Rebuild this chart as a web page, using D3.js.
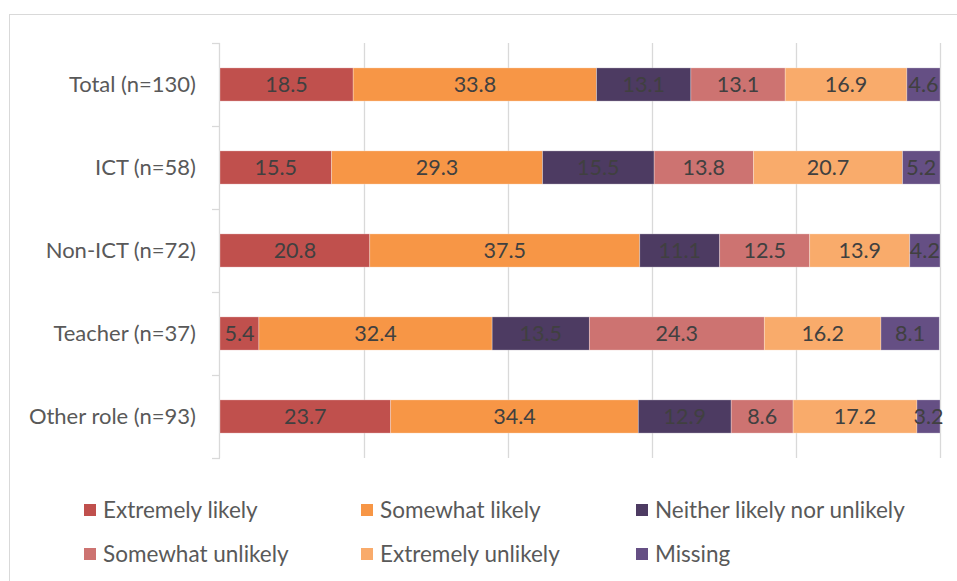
<!DOCTYPE html>
<html lang="en">
<head>
<meta charset="UTF-8">
<title>Likelihood by group</title>
<script src="https://d3js.org/d3.v7.min.js"></script>
<style>
  body { margin: 0; background: #fff; }
  svg { font-family: Lato, "Open Sans", sans-serif; }
  .cat-label { font-size: 22px; fill: #595959; }
  .val-label { font-size: 21.5px; fill: #404040; }
  .legend-label { font-size: 22.5px; fill: #595959; }
</style>
</head>
<body>
<div id="chart"></div>
<script>
// Data
const groups = ["Total (n=130)", "ICT (n=58)", "Non-ICT (n=72)", "Teacher (n=37)", "Other role (n=93)"];
const responses = ["Extremely likely", "Somewhat likely", "Neither likely nor unlikely",
                   "Somewhat unlikely", "Extremely unlikely", "Missing"];
const extremelyLikely   = [18.5, 15.5, 20.8, 5.4, 23.7];
const somewhatLikely    = [33.8, 29.3, 37.5, 32.4, 34.4];
const neither           = [13.1, 15.5, 11.1, 13.5, 12.9];
const somewhatUnlikely  = [13.1, 13.8, 12.5, 24.3, 8.6];
const extremelyUnlikely = [16.9, 20.7, 13.9, 16.2, 17.2];
const missing           = [4.6, 5.2, 4.2, 8.1, 3.2];
const xTicks = [0, 20, 40, 60, 80, 100];

const colors = ["#C0504D", "#F79646", "#4D3B62", "#CD7371", "#F9AB6B", "#654F84"];

const W = 957, H = 581;
const plot = { left: 220, right: 940, top: 43, bottom: 458 };

const seriesValues = [extremelyLikely, somewhatLikely, neither, somewhatUnlikely, extremelyUnlikely, missing];
const rows = groups.map((g, i) => {
  const r = { group: g };
  responses.forEach((k, j) => r[k] = seriesValues[j][i]);
  return r;
});

const stack = d3.stack().keys(responses)(rows);

const x = d3.scaleLinear().domain([0, 100]).range([plot.left, plot.right]);
const y = d3.scaleBand().domain(groups).range([plot.top, plot.bottom]).paddingInner(0.6).paddingOuter(0.3);
const band = d3.scaleBand().domain(groups).range([plot.top, plot.bottom]);
const color = d3.scaleOrdinal().domain(responses).range(colors);

const svg = d3.select("#chart").append("svg")
    .attr("width", W)
    .attr("height", H);

// chart frame
svg.append("rect")
    .attr("x", 9.5).attr("y", 14.5)
    .attr("width", 960).attr("height", 600)
    .attr("fill", "none")
    .attr("stroke", "#d9d9d9");

// gridlines
svg.append("g")
  .selectAll("line")
  .data(xTicks.slice(1))
  .join("line")
    .attr("x1", d => Math.round(x(d)) + 0.5)
    .attr("x2", d => Math.round(x(d)) + 0.5)
    .attr("y1", plot.top)
    .attr("y2", plot.bottom)
    .attr("stroke", "#d9d9d9")
    .attr("stroke-width", 1.3);

// category axis with ticks between categories
const yAxis = svg.append("g");
yAxis.append("line")
    .attr("x1", plot.left - 0.5).attr("x2", plot.left - 0.5)
    .attr("y1", plot.top).attr("y2", plot.bottom)
    .attr("stroke", "#d9d9d9").attr("stroke-width", 1.3);
const boundaries = groups.map(g => band(g)).concat([plot.bottom]);
yAxis.selectAll(".tick")
  .data(boundaries)
  .join("line")
    .attr("class", "tick")
    .attr("x1", plot.left - 8).attr("x2", plot.left)
    .attr("y1", d => Math.round(d) + 0.5)
    .attr("y2", d => Math.round(d) + 0.5)
    .attr("stroke", "#d9d9d9").attr("stroke-width", 1.3);
yAxis.selectAll(".cat-label")
  .data(groups)
  .join("text")
    .attr("class", "cat-label")
    .attr("x", 196)
    .attr("y", d => y(d) + y.bandwidth() / 2 - 1.5)
    .attr("text-anchor", "end")
    .attr("dominant-baseline", "central")
    .text(d => d);

// bars
const layers = svg.append("g")
  .selectAll("g")
  .data(stack)
  .join("g")
    .attr("fill", d => color(d.key));

layers.selectAll("rect")
  .data(d => d)
  .join("rect")
    .attr("x", d => x(d[0]))
    .attr("y", d => y(d.data.group))
    .attr("width", d => x(d[1]) - x(d[0]))
    .attr("height", y.bandwidth())
    .attr("stroke", "#ffffff")
    .attr("stroke-opacity", 0.35)
    .attr("stroke-width", 0.8);

layers.selectAll("text")
  .data(d => d)
  .join("text")
    .attr("class", "val-label")
    .attr("x", d => (x(d[0]) + x(d[1])) / 2)
    .attr("y", d => y(d.data.group) + y.bandwidth() / 2 - 1)
    .attr("text-anchor", "middle")
    .attr("dominant-baseline", "central")
    .text(d => d3.format(".1f")(d[1] - d[0]));

// legend
const legendCols = [84, 361, 636];
const legendRows = [510, 554];
const legend = svg.append("g")
  .selectAll("g")
  .data(responses)
  .join("g")
    .attr("transform", (d, i) => `translate(${legendCols[i % 3]},${legendRows[Math.floor(i / 3)]})`);

legend.append("rect")
    .attr("x", 0).attr("y", -6)
    .attr("width", 12).attr("height", 12)
    .attr("fill", d => color(d));

legend.append("text")
    .attr("class", "legend-label")
    .attr("x", 19)
    .attr("y", -1)
    .attr("dominant-baseline", "central")
    .text(d => d);
</script>
</body>
</html>
